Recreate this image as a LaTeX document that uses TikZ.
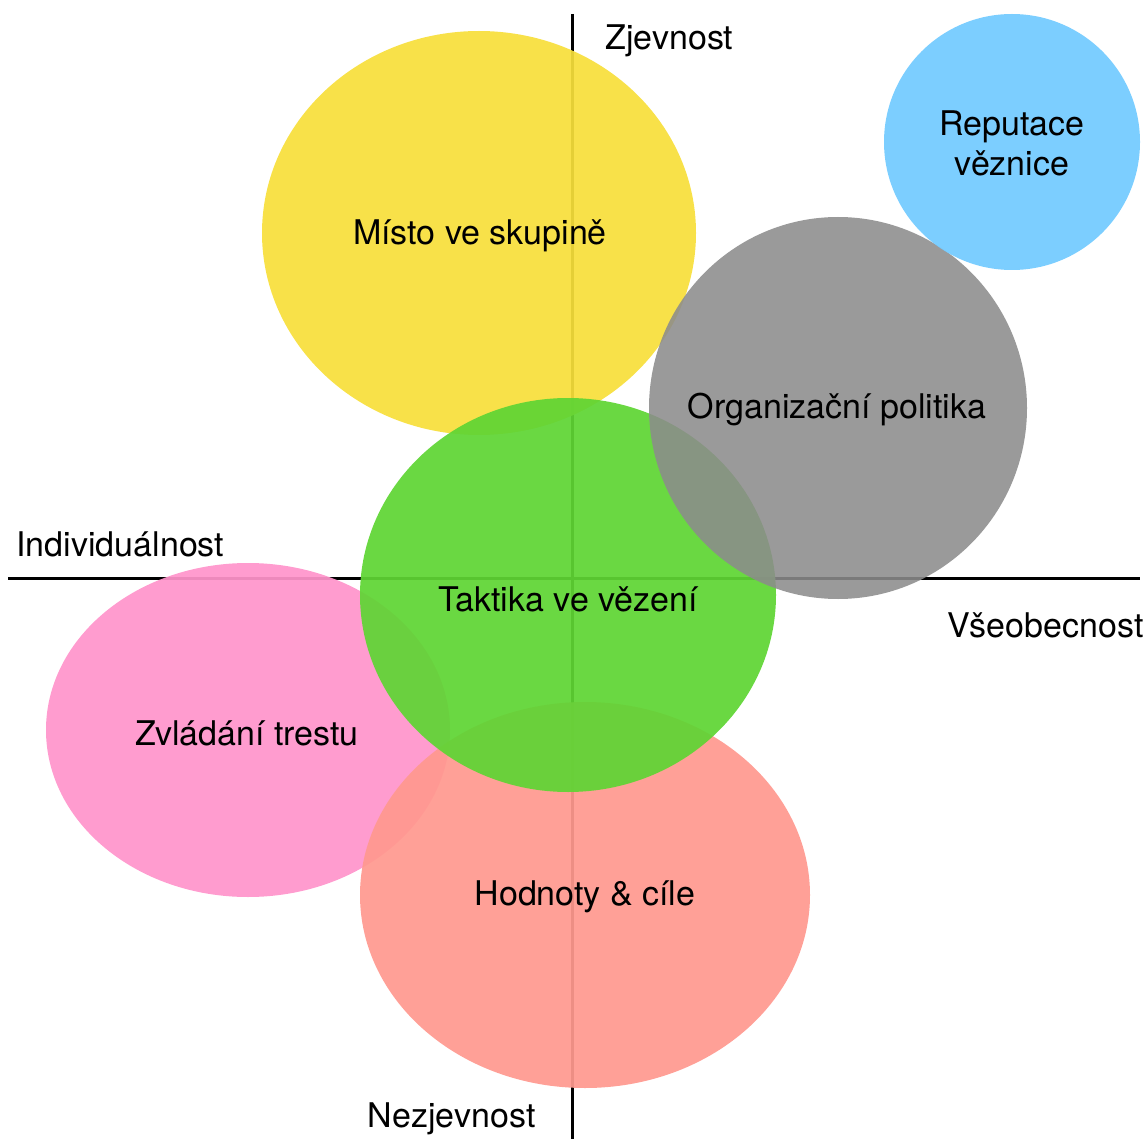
\documentclass[tikz,border=0pt]{standalone}
\usepackage{fontspec}
\setmainfont{TeX Gyre Heros}
\definecolor{cyellow}{HTML}{F7DF3B}
\definecolor{cgreen}{HTML}{5FD534}
\definecolor{cgray}{HTML}{8C8C8C}
\definecolor{cpink}{HTML}{FF94CB}
\definecolor{csalmon}{HTML}{FF998F}
\definecolor{cblue}{HTML}{75CBFF}
\begin{document}
\begin{tikzpicture}[x=1pt,y=-1pt,
  blob/.style={text opacity=1,font=\fontsize{34}{40}\selectfont,align=center,yshift=-3pt},
  axislabel/.style={font=\fontsize{34}{40}\selectfont,yshift=-3pt},
  axisline/.style={line width=3pt,black}]
\useasboundingbox (0,0) rectangle (1148,1139);
\coordinate (top) at (572,14);
\coordinate (bot) at (572,1139);
\coordinate (left) at (8,578);
\coordinate (right) at (1140,578);
\draw[axisline] (top) -- (bot);
\draw[axisline] (left) -- (right);
\node[axislabel,anchor=west] (zj) at (602,38) {Zjevnost};
\node[axislabel,anchor=west] (ind) at (13,541) {Individuálnost};
\node[axislabel,anchor=east] (vse) at (1147,622) {Všeobecnost};
\node[axislabel,anchor=east] (nez) at (539,1116) {Nezjevnost};
% ellipses
\fill[cyellow,fill opacity=0.93] (479,233) ellipse [x radius=217,y radius=202];
\fill[cpink,fill opacity=0.93] (248,730) ellipse [x radius=202,y radius=167];
\fill[csalmon,fill opacity=0.93] (585,895) ellipse [x radius=225,y radius=193];
\fill[cgreen,fill opacity=0.93] (568,595) ellipse [x radius=208,y radius=197];
\fill[cgray,fill opacity=0.88] (838,408) ellipse [x radius=189,y radius=191];
\fill[cblue,fill opacity=0.95] (1012,142) ellipse [x radius=128,y radius=128];
\node[blob] (misto) at (480,233) {Místo ve skupině};
\node[blob] (rep) at (1012,140) {Reputace\\věznice};
\node[blob] (org) at (837,407) {Organizační politika};
\node[blob] (takt) at (568,596) {Taktika ve vězení};
\node[blob] (zvl) at (247,730) {Zvládání trestu};
\node[blob] (hod) at (585,894) {Hodnoty \& cíle};
\end{tikzpicture}
\end{document}
